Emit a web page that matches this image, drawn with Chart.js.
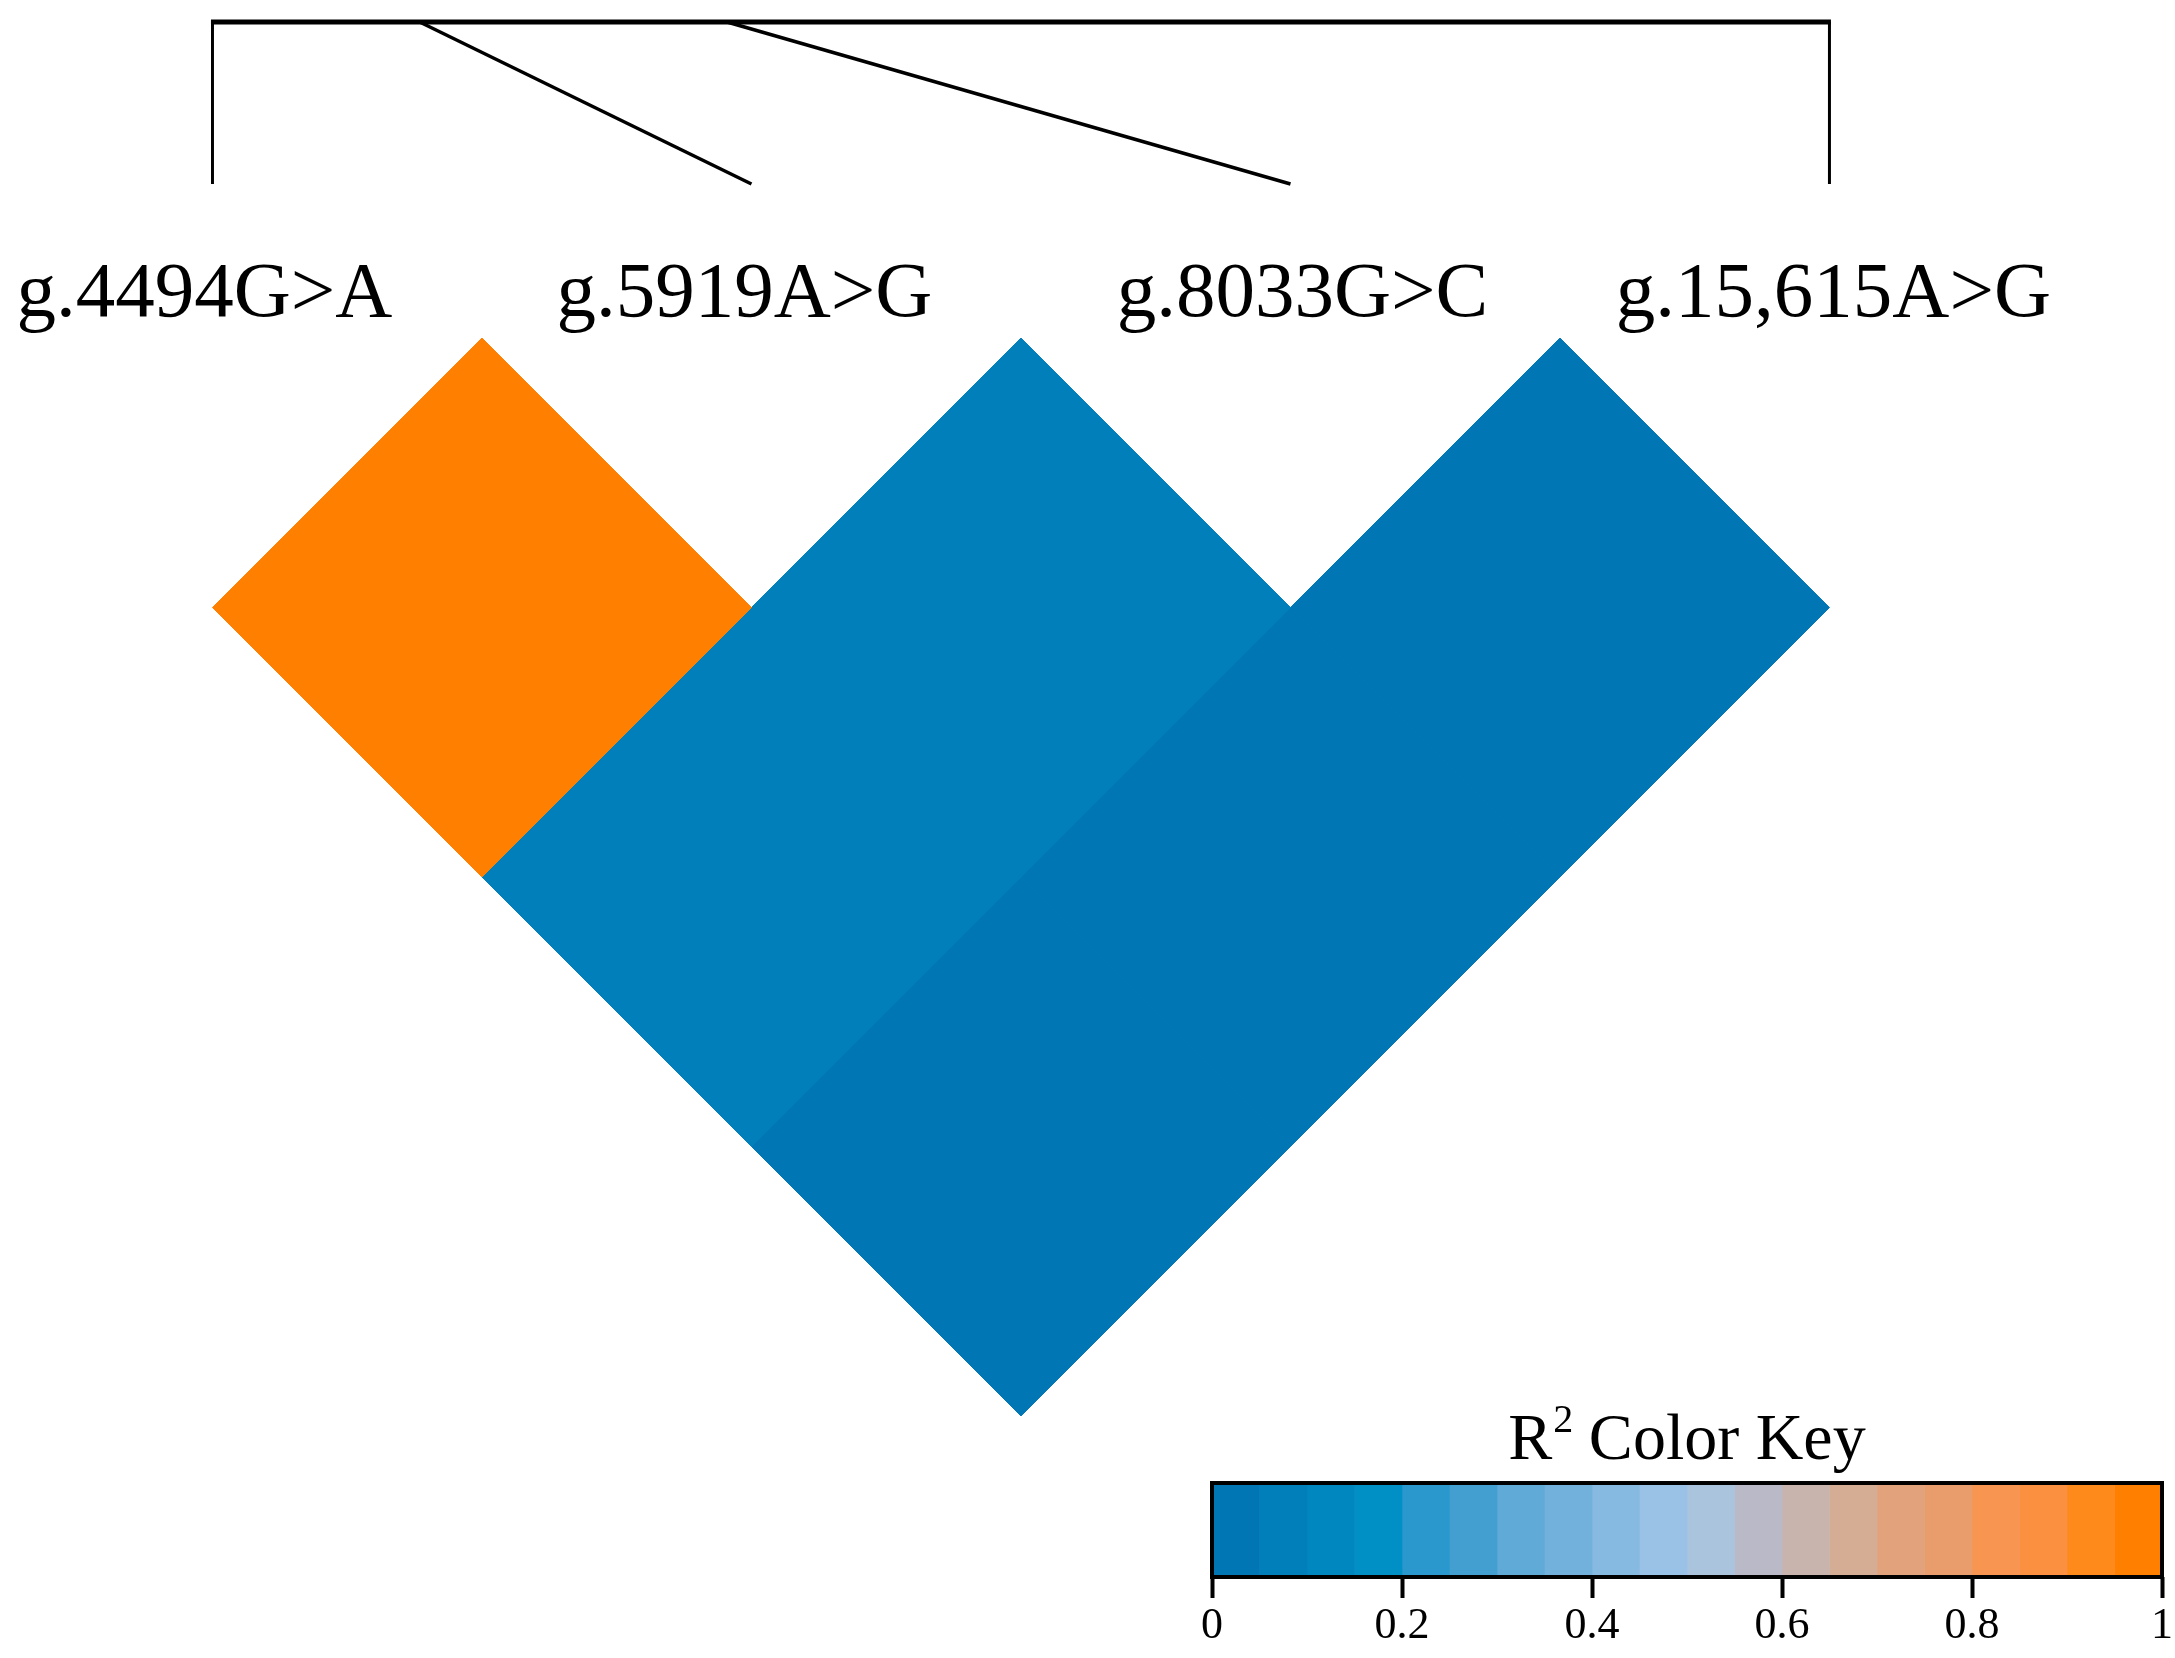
<!DOCTYPE html>
<html>
<head>
<meta charset="utf-8">
<script src="https://cdn.jsdelivr.net/npm/chart.js@4.4.1/dist/chart.umd.min.js"></script>
<style>
  html, body { margin: 0; padding: 0; background: #ffffff; overflow: hidden; }
  #wrap { position: relative; width: 2175px; height: 1658px; }
  #main { position: absolute; left: 0; top: 0; }
  #key { position: absolute; left: 1150px; top: 1390px; }
</style>
</head>
<body>
<div id="wrap">
  <canvas id="main" width="2175" height="1658"></canvas>
  <canvas id="key" width="1025" height="268"></canvas>
</div>
<script>
// ---------------- DATA ----------------
const snpLabels = ['g.4494G>A', 'g.5919A>G', 'g.8033G>C', 'g.15,615A>G'];
const snpPositions = [4494, 5919, 8033, 15615];
// pairs of SNP indices and their r² values
const r2Pairs = [[0, 1], [1, 2], [2, 3], [0, 2], [1, 3], [0, 3]];
const r2Values = [0.98, 0.07, 0.02, 0.07, 0.02, 0.02];
// colour key
const keyColors = ['#0077B4', '#007FBB', '#0087C0', '#0090C6', '#2A98CC', '#439FCF', '#5FAAD6', '#72B1DC',
                   '#86BAE1', '#9AC2E6', '#ABC4DD', '#B9B9C7', '#C8B4AC', '#D5AD95', '#E1A27C', '#EA9D6C',
                   '#F79551', '#FB9040', '#FF8A1C', '#FF8000'];
const keyTicks = [0, 0.2, 0.4, 0.6, 0.8, 1];
const keyTitle = ['R', '2', ' Color Key'];

// ---------------- LAYOUT ----------------
const FONT = "'Liberation Serif', 'Times New Roman', serif";
const X_MIN = -0.3942, X_MAX = 3.6411;   // index units across canvas width
const Y_MIN = -0.6271, Y_MAX = 2.4490;   // depth units down the canvas
const Y_TOPLINE = -0.5863, Y_TOPEND = -0.2857, Y_LABEL = -0.0408;
const LABEL_NUDGE = [-8, -7, 12, 4];     // px, fine horizontal placement of SNP names

function colorFor(v) {
  const n = keyColors.length;
  const k = Math.min(n - 1, Math.max(0, Math.floor(v * n)));
  return keyColors[k];
}

const cellDatasets = r2Pairs.map((p, k) => {
  const i = p[0], j = p[1];
  const cx = (i + j) / 2, cy = (j - i) / 2;
  const c = colorFor(r2Values[k]);
  return {
    data: [
      { x: cx, y: cy - 0.5 }, { x: cx + 0.5, y: cy },
      { x: cx, y: cy + 0.5 }, { x: cx - 0.5, y: cy }, { x: cx, y: cy - 0.5 }
    ],
    backgroundColor: c,
    borderColor: c,
    borderWidth: 1,
    pointRadius: 0,
    pointHoverRadius: 0,
    fill: 'shape',
    tension: 0
  };
});

const n = snpPositions.length;
const bpPerUnit = (snpPositions[n - 1] - snpPositions[0]) / (n - 1);

const overlayPlugin = {
  id: 'overlay',
  afterDatasetsDraw(chart) {
    const ctx = chart.ctx;
    const xs = chart.scales.x, ys = chart.scales.y, xg = chart.scales.xg;
    const yTop = ys.getPixelForValue(Y_TOPLINE);
    const yEnd = ys.getPixelForValue(Y_TOPEND);
    ctx.save();
    ctx.strokeStyle = '#000';
    ctx.lineCap = 'butt';
    // top genomic bar
    ctx.lineWidth = 5;
    ctx.beginPath();
    ctx.moveTo(xg.getPixelForValue(snpPositions[0]) - 1.5, yTop);
    ctx.lineTo(xg.getPixelForValue(snpPositions[n - 1]) + 1.5, yTop);
    ctx.stroke();
    // connectors
    snpPositions.forEach((pos, i) => {
      const gx = xg.getPixelForValue(pos);
      const ix = xs.getPixelForValue(i);
      ctx.lineWidth = (i === 0 || i === n - 1) ? 3 : 3.5;
      ctx.beginPath();
      ctx.moveTo(gx, yTop);
      ctx.lineTo(ix, yEnd);
      ctx.stroke();
    });
    // labels
    ctx.fillStyle = '#000';
    ctx.font = '79px ' + FONT;
    ctx.textAlign = 'center';
    ctx.textBaseline = 'alphabetic';
    const yl = ys.getPixelForValue(Y_LABEL);
    snpLabels.forEach((t, i) => {
      ctx.fillText(t, xs.getPixelForValue(i) + LABEL_NUDGE[i], yl);
    });
    ctx.restore();
  }
};

new Chart(document.getElementById('main'), {
  type: 'line',
  data: { datasets: cellDatasets },
  options: {
    responsive: false,
    animation: false,
    events: [],
    layout: { padding: 0, autoPadding: false },
    plugins: { legend: { display: false }, tooltip: { enabled: false }, title: { display: false } },
    scales: {
      x: { type: 'linear', display: false, min: X_MIN, max: X_MAX },
      xg: { type: 'linear', display: false, axis: 'x',
            min: snpPositions[0] + X_MIN * bpPerUnit, max: snpPositions[0] + X_MAX * bpPerUnit },
      y: { type: 'linear', display: false, reverse: true, min: Y_MIN, max: Y_MAX }
    }
  },
  plugins: [overlayPlugin]
});

// ---------------- COLOUR KEY ----------------
const keyStep = 1 / keyColors.length;
const keyDatasets = keyColors.map(c => ({
  data: [keyStep],
  backgroundColor: c,
  borderWidth: 0,
  barPercentage: 1,
  categoryPercentage: 1
}));

const keyPlugin = {
  id: 'keyFrame',
  afterDraw(chart) {
    const ctx = chart.ctx, a = chart.chartArea;
    ctx.save();
    ctx.strokeStyle = '#000';
    ctx.lineWidth = 4;
    ctx.strokeRect(a.left, a.top, a.right - a.left, a.bottom - a.top);
    // title with superscript
    const big = '66px ' + FONT, small = '40px ' + FONT;
    ctx.fillStyle = '#000';
    ctx.textBaseline = 'alphabetic';
    ctx.font = big; const w0 = ctx.measureText(keyTitle[0]).width;
    ctx.font = small; const w1 = ctx.measureText(keyTitle[1]).width;
    ctx.font = big; const w2 = ctx.measureText(keyTitle[2]).width;
    const total = w0 + w1 + w2;
    let x = (a.left + a.right) / 2 - total / 2;
    const base = a.top - 24;
    ctx.textAlign = 'left';
    ctx.font = big; ctx.fillText(keyTitle[0], x, base); x += w0;
    ctx.font = small; ctx.fillText(keyTitle[1], x + 1, base - 27); x += w1;
    ctx.font = big; ctx.fillText(keyTitle[2], x, base);
    ctx.restore();
  }
};

new Chart(document.getElementById('key'), {
  type: 'bar',
  data: { labels: [''], datasets: keyDatasets },
  options: {
    indexAxis: 'y',
    responsive: false,
    animation: false,
    events: [],
    layout: { padding: { left: 62, right: 11, top: 93, bottom: 0 }, autoPadding: false },
    plugins: { legend: { display: false }, tooltip: { enabled: false }, title: { display: false } },
    scales: {
      x: {
        type: 'linear', stacked: true, min: 0, max: 1,
        afterBuildTicks: (s) => { s.ticks = keyTicks.map(v => ({ value: v })); },
        afterFit: (s) => { s.height = 81; },
        border: { display: false },
        grid: { drawOnChartArea: false, drawTicks: true, tickLength: 21, tickWidth: 4, tickColor: '#000' },
        ticks: {
          color: '#000', padding: 2, maxRotation: 0, autoSkip: false,
          font: { family: FONT, size: 44 },
          callback: (v) => String(v)
        }
      },
      y: { stacked: true, display: false }
    }
  },
  plugins: [keyPlugin]
});
</script>
</body>
</html>
